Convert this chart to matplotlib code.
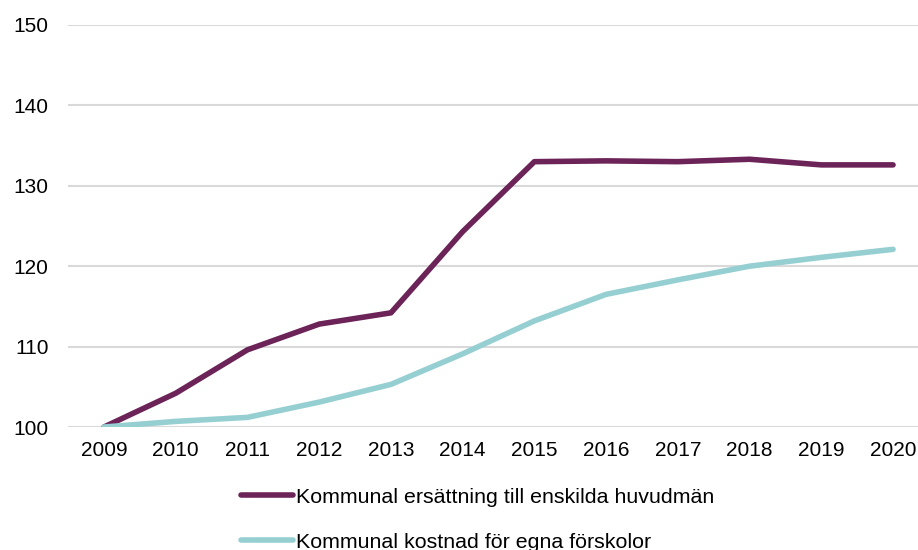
import matplotlib
matplotlib.use('Agg')
import matplotlib.pyplot as plt
import numpy as np

plt.rcParams['font.family'] = ['Liberation Sans', 'DejaVu Sans']

years = ['2009', '2010', '2011', '2012', '2013', '2014', '2015', '2016',
         '2017', '2018', '2019', '2020']
ersattning = [100, 104.2, 109.6, 112.8, 114.2, 124.3, 133.0, 133.1,
              133.0, 133.3, 132.6, 132.6]
kostnad = [100, 100.7, 101.2, 103.1, 105.3, 109.1, 113.2, 116.5,
           118.3, 120.0, 121.1, 122.1]
labels = ['Kommunal ersättning till enskilda huvudmän',
          'Kommunal kostnad för egna förskolor']

fig = plt.figure(figsize=(9.18, 5.5), dpi=100)
ax = fig.add_axes([0.0742, 0.2236, 0.9377, 0.731])

x = np.arange(len(years))
l1, = ax.plot(x, ersattning, color='#6B2358', linewidth=4.0, solid_capstyle='round', zorder=3)
l2, = ax.plot(x, kostnad, color='#96CFD2', linewidth=4.0, solid_capstyle='round', zorder=3)

ax.set_xlim(-0.5, len(years) - 0.5)
ax.set_ylim(100, 150)
ax.set_yticks([100, 110, 120, 130, 140, 150])
ax.set_xticks(x)
ax.set_xticklabels(years)
ax.grid(True, axis='y', color='#D9D9D9', linewidth=1.5)
ax.set_axisbelow(True)
for s in ax.spines.values():
    s.set_visible(False)
ax.tick_params(axis='both', length=0, labelsize=15, colors='black')
ax.tick_params(axis='y', pad=14)
ax.tick_params(axis='x', pad=10)

fig.legend([l1, l2], labels, loc='upper left', bbox_to_anchor=(0.263, 0.113),
           bbox_transform=fig.transFigure, frameon=False, fontsize=15.4,
           handlelength=2.4, handletextpad=0.15, labelspacing=1.2,
           borderaxespad=0, borderpad=0)

plt.savefig('out.png', dpi=100)
plt.close()
